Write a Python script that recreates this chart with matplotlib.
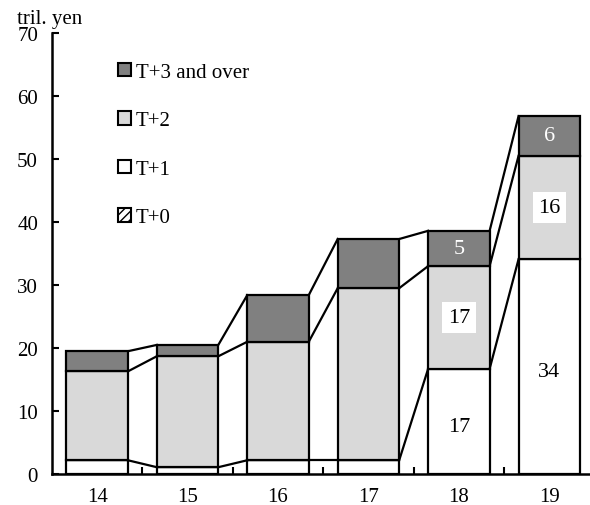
import numpy as np
import matplotlib.pyplot as plt
from matplotlib.patches import Patch

plt.rcParams['font.family'] = ['Liberation Serif', 'DejaVu Serif']
plt.rcParams['font.size'] = 15

# data (tril. yen)
years = ['14', '15', '16', '17', '18', '19']
t0 = np.array([2.2, 1.1, 2.2, 2.2, 0.0, 0.0])
t1 = np.array([0.0, 0.0, 0.0, 0.0, 16.7, 34.1])
t2 = np.array([14.1, 17.6, 18.8, 27.3, 16.3, 16.4])
t3 = np.array([3.2, 1.8, 7.4, 7.8, 5.6, 6.3])
# printed labels for 18 and 19
lbl_t1 = ['17', '34']
lbl_t2 = ['17', '16']
lbl_t3 = ['5', '6']

x = np.arange(len(years))
w = 0.68

fig = plt.figure(figsize=(5.9, 5.06), dpi=100)
ax = fig.add_axes([0.088, 0.061, 0.912, 0.872])

lw = 1.6
ax.bar(x, t0, w, color='white', edgecolor='black', linewidth=lw)
ax.bar(x, t1, w, bottom=t0, color='white', edgecolor='black', linewidth=lw)
ax.bar(x, t2, w, bottom=t0 + t1, color='#d9d9d9', edgecolor='black', linewidth=lw)
ax.bar(x, t3, w, bottom=t0 + t1 + t2, color='#808080', edgecolor='black', linewidth=lw)

# connector lines between neighbouring bars
levels = [t0 + t1, t0 + t1 + t2, t0 + t1 + t2 + t3]
for lev in levels:
    for i in range(len(x) - 1):
        ax.plot([x[i] + w / 2, x[i + 1] - w / 2], [lev[i], lev[i + 1]],
                color='black', linewidth=lw, zorder=3)

box = dict(facecolor='white', edgecolor='none', pad=4)
for k, i in enumerate([4, 5]):
    base = t0[i]
    ax.text(x[i], base + t1[i] / 2 - 0.8, lbl_t1[k], ha='center', va='center', fontsize=16)
    ax.text(x[i], base + t1[i] + t2[i] / 2, lbl_t2[k], ha='center', va='center',
            fontsize=16, bbox=box)
    ax.text(x[i], base + t1[i] + t2[i] + t3[i] / 2, lbl_t3[k], ha='center',
            va='center', fontsize=16, color='white')

ax.set_xlim(-0.5, 5.45)
ax.set_ylim(0, 70)
ax.set_yticks(range(0, 71, 10))
ax.set_xticks(x)
ax.set_xticklabels(years)
ax.set_xticks(x[:-1] + 0.5, minor=True)
ax.tick_params(axis='x', which='major', length=0, pad=9)
ax.tick_params(axis='x', which='minor', direction='in', length=5, width=1.5)
ax.tick_params(axis='y', direction='in', length=5, width=1.5, pad=10)
for s in ['top', 'right']:
    ax.spines[s].set_visible(False)
for s in ['left', 'bottom']:
    ax.spines[s].set_linewidth(1.8)

ax.text(-0.065, 1.012, 'tril. yen', transform=ax.transAxes, ha='left', va='bottom')

handles = [Patch(facecolor='#808080', edgecolor='black', linewidth=1.5),
           Patch(facecolor='#d9d9d9', edgecolor='black', linewidth=1.5),
           Patch(facecolor='white', edgecolor='black', linewidth=1.5),
           Patch(facecolor='white', edgecolor='black', linewidth=1.5, hatch='////')]
labels = ['T+3 and over', 'T+2', 'T+1', 'T+0']
ax.legend(handles, labels, loc='upper left', bbox_to_anchor=(0.088, 0.975),
          frameon=False, handlelength=0.6, handleheight=0.6, handletextpad=0.25,
          labelspacing=1.42, fontsize=15)

fig.savefig('out.png', dpi=100)
